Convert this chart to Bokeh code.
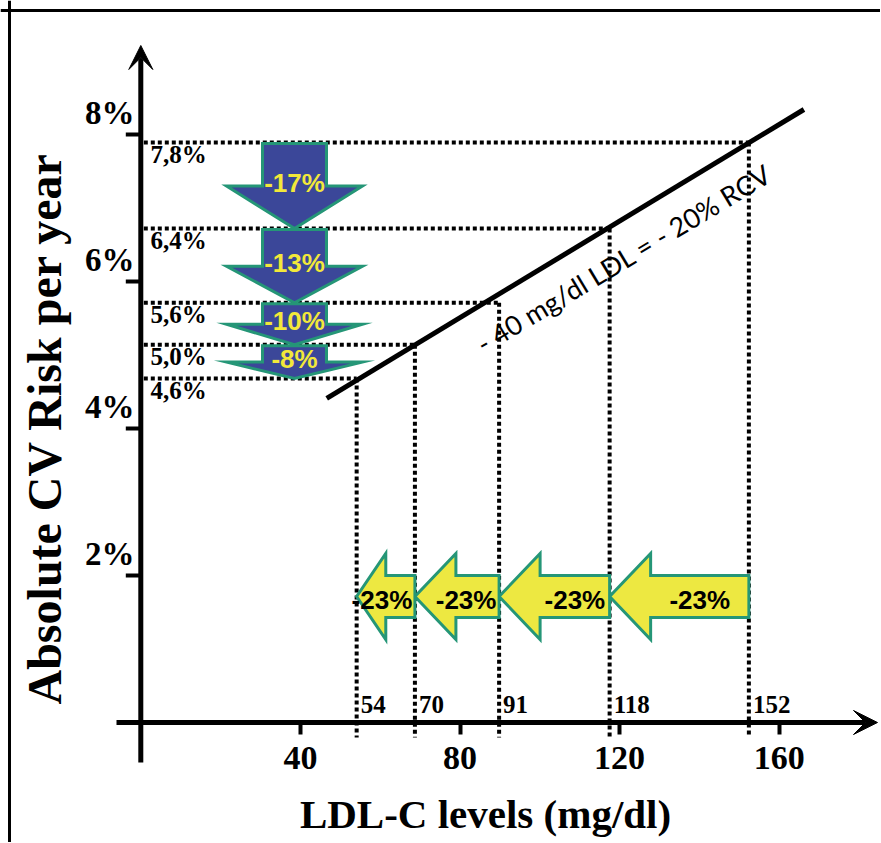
import numpy as np
from bokeh.plotting import figure
from bokeh.models import LinearAxis, FixedTicker, Arrow, VeeHead, Span
from bokeh.core.properties import value
from bokeh.embed import file_html
from bokeh.resources import INLINE

# ---------------- data ----------------
x_ticks = [40, 80, 120, 160]
y_ticks = [2, 4, 6, 8]
y_tick_labels = ["2%", "4%", "6%", "8%"]

# absolute risk levels (labels) and where their dotted lines sit in the drawing
risk_labels = ["7,8%", "6,4%", "5,6%", "5,0%", "4,6%"]
risk_y = [7.89, 6.72, 5.71, 5.14, 4.68]

# LDL-C levels (labels) and where their dotted lines sit in the drawing
ldl_labels = ["152", "118", "91", "70", "54"]
ldl_x = [152.4, 117.5, 89.8, 68.7, 54.1]

# relative risk reductions (blue arrows) and LDL reductions (yellow arrows)
rrr_labels = ["-17%", "-13%", "-10%", "-8%"]
ldl_red_labels = ["-23%", "-23%", "-23%", "-23%"]

# the "- 40 mg/dl LDL = - 20% RCV" line
diag_x = [46.6, 166.2]
diag_y = [4.41, 8.34]

# ---------------- layout helpers ----------------
W, H = 880, 842
PXX = 3.99      # px per mg/dl
PXY = 73.5      # px per %
X0 = 140.3      # canvas px of x = 0
Y0 = 722.0      # canvas px (from top) of y = 0
x_range = (-X0 / PXX, (W - X0) / PXX)
y_range = ((Y0 - H) / PXY, Y0 / PXY)


def dx(px):
    return px / PXX


def dy(px):
    return px / PXY


def px_x(px):   # canvas x pixel -> data x
    return (px - X0) / PXX


def px_y(py):   # canvas y pixel (from top) -> data y
    return (Y0 - py) / PXY


BLUE = "#3b4799"
GREEN = "#259677"
YELLOW = "#ede841"
YTEXT = "#f2e83a"
SERIF = value("Liberation Serif")
SANS = value("Liberation Sans")

p = figure(width=W, height=H, x_range=x_range, y_range=y_range,
           min_border=0, toolbar_location=None, output_backend="svg",
           x_axis_type=None, y_axis_type=None, outline_line_color=None,
           background_fill_color="white", border_fill_color="white")

# frame of the picture (top and left edges)
p.add_layout(Span(location=px_y(10), dimension="width",
                  line_color="black", line_width=3))
p.add_layout(Span(location=px_x(9), dimension="height",
                  line_color="black", line_width=3))

# dotted guide lines
n = len(risk_y)
DOT = dict(line_color="black", line_width=4, line_dash="4 3")
p.segment(x0=[dx(3)] * n, y0=risk_y, x1=ldl_x, y1=risk_y, **DOT)
p.segment(x0=ldl_x, y0=risk_y, x1=ldl_x, y1=[-dy(15)] * n, **DOT)

# diagonal line
p.line(diag_x, diag_y, line_color="black", line_width=5)

# blue down arrows between successive risk levels
SHAFT_L, SHAFT_R = px_x(262), px_x(326)
CX = (SHAFT_L + SHAFT_R) / 2
WING = dx(68)
bxs, bys, blab_y = [], [], []
for top, tip in zip(risk_y[:-1], risk_y[1:]):
    t = top - dy(1)
    base = tip + 0.5 * (t - tip)
    bxs.append([SHAFT_L, SHAFT_R, SHAFT_R, CX + WING, CX, CX - WING, SHAFT_L])
    bys.append([t, t, base, base, tip, base, base])
    blab_y.append(base + dy(3))
p.patches(bxs, bys, fill_color=BLUE, line_color=GREEN, line_width=3,
          line_join="miter")
p.text(x=[CX] * len(rrr_labels), y=blab_y, text=rrr_labels,
       text_align="center", text_baseline="middle", text_font=SANS,
       text_font_style="bold", text_font_size="26px", text_color=YTEXT)

# yellow left arrows between successive LDL levels
YC = px_y(596)
SH, WG = dy(21), dy(43)
HEAD = dx(41)
yxs, yys, ylab_x = [], [], []
for tail, tip in zip(ldl_x[:-1], ldl_x[1:]):
    hb = tip + min(HEAD, 0.5 * (tail - tip))
    yxs.append([tail, hb, hb, tip, hb, hb, tail])
    yys.append([YC + SH, YC + SH, YC + WG, YC, YC - WG, YC - SH, YC - SH])
    ylab_x.append(min((hb + tail) / 2, tail - dx(33)))
p.patches(yxs, yys, fill_color=YELLOW, line_color=GREEN, line_width=3,
          line_join="miter")
p.text(x=ylab_x, y=[YC - dy(3)] * len(ylab_x), text=ldl_red_labels,
       text_align="center", text_baseline="middle", text_font=SANS,
       text_font_style="bold", text_font_size="26px", text_color="black")

# level labels
p.text(x=[px_x(150)] * n, y=risk_y, text=risk_labels, text_align="left",
       text_baseline="top", y_offset=-2, text_font=SERIF,
       text_font_style="bold", text_font_size="25px", text_color="black")
p.text(x=ldl_x, y=[0] * n, text=ldl_labels, text_align="left",
       text_baseline="bottom", x_offset=4, y_offset=-10, text_font=SERIF,
       text_font_style="bold", text_font_size="25px", text_color="black")

# axes: arrows
p.add_layout(Arrow(x_start=0, y_start=px_y(762), x_end=0, y_end=px_y(45),
                   line_color="black", line_width=5,
                   end=VeeHead(size=24, fill_color="black", line_color="black")))
p.add_layout(Arrow(x_start=px_x(116), y_start=0, x_end=px_x(877),
                   y_end=0, line_color="black", line_width=5,
                   end=VeeHead(size=24, fill_color="black", line_color="black")))

# y ticks and labels
p.segment(x0=[-dx(15)] * len(y_ticks), y0=y_ticks, x1=[0] * len(y_ticks),
          y1=y_ticks, line_color="black", line_width=4)
p.text(x=[px_x(134)] * len(y_ticks), y=y_ticks, text=y_tick_labels,
       text_align="right", text_baseline="bottom", y_offset=-4,
       text_font=SERIF, text_font_style="bold", text_font_size="33px",
       text_color="black")

# x axis ticks and labels
xaxis = LinearAxis(fixed_location=0, ticker=FixedTicker(ticks=x_ticks),
                   axis_line_color=None, major_tick_out=12, major_tick_in=0,
                   major_tick_line_width=4, major_tick_line_color="black",
                   minor_tick_line_color=None,
                   major_label_text_font="Liberation Serif",
                   major_label_text_font_style="bold",
                   major_label_text_font_size="34px",
                   major_label_text_color="black",
                   major_label_standoff=12)
p.add_layout(xaxis, "below")

# axis titles
p.text(x=[px_x(44)], y=[px_y(428)], text=["Absolute CV Risk per year"],
       angle=90, angle_units="deg", text_align="center", text_baseline="middle",
       text_font=SERIF, text_font_style="bold", text_font_size="48px",
       text_color="black")
p.text(x=[px_x(485)], y=[px_y(813)], text=["LDL-C levels (mg/dl)"],
       text_align="center", text_baseline="middle", text_font=SERIF,
       text_font_style="bold", text_font_size="41px", text_color="black")

# annotation along the diagonal
p.text(x=[px_x(478)], y=[px_y(345)], text=["- 40 mg/dl LDL =  - 20% RCV"],
       angle=31, angle_units="deg", text_align="left",
       text_baseline="alphabetic", text_font=value("Lato"),
       text_font_size="27px", text_color="black")

open("out.html", "w").write(file_html(p, INLINE))
